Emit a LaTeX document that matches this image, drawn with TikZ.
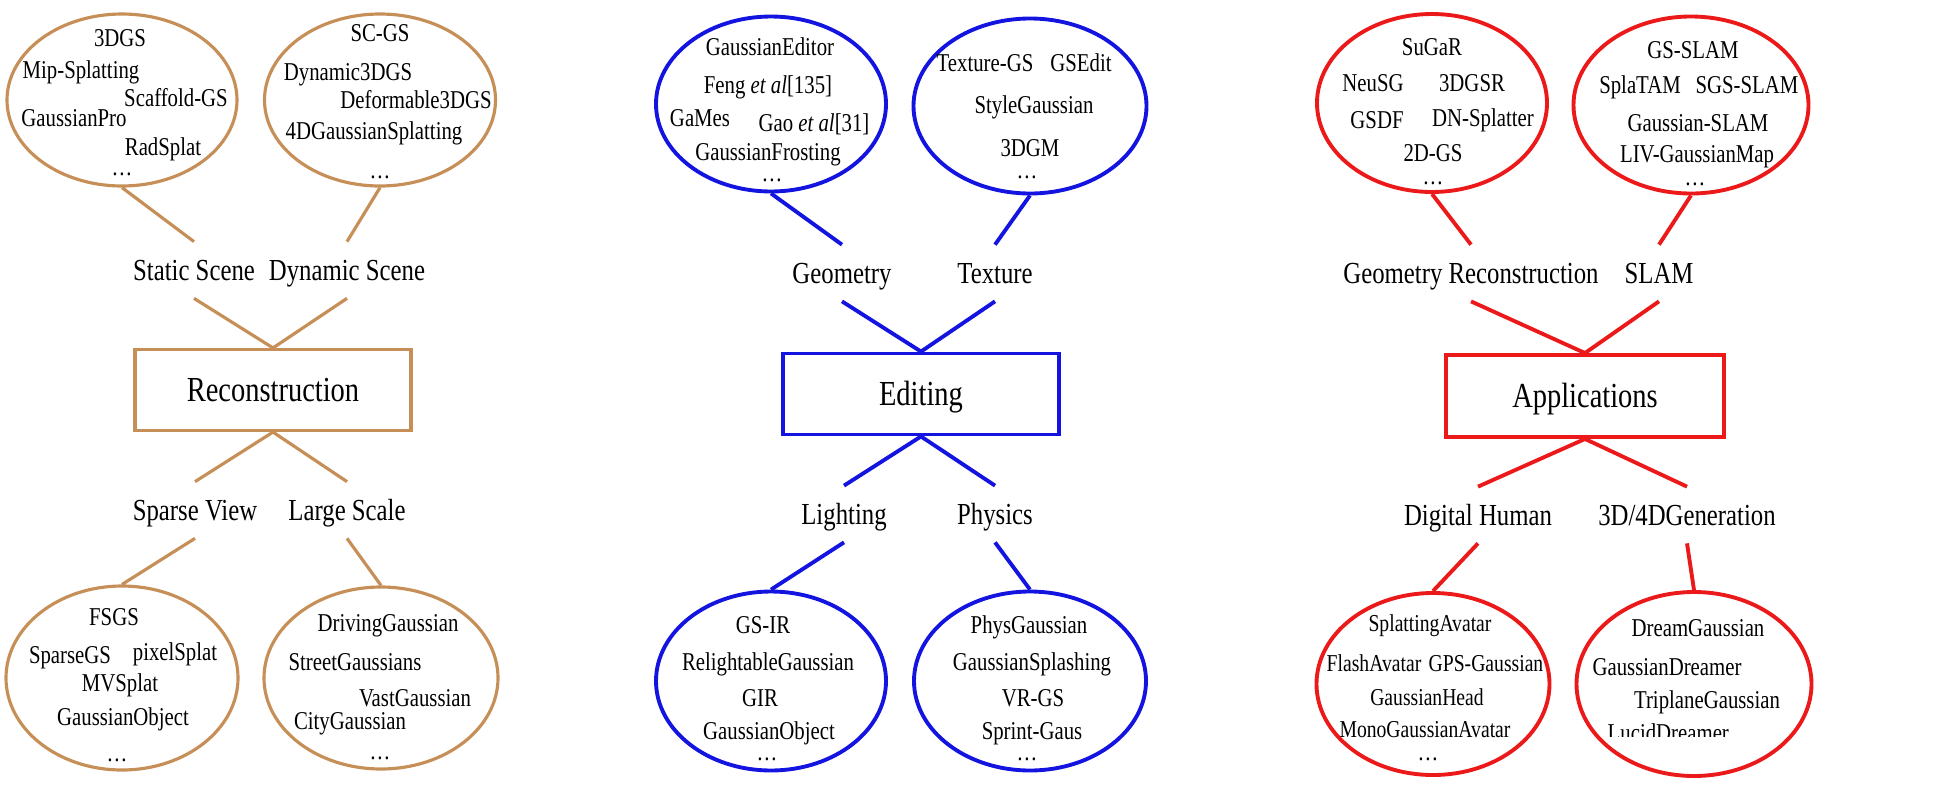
\documentclass[tikz,border=0pt]{standalone}
\usepackage{fontspec}
\setmainfont{Liberation Serif}[FakeStretch=0.81]
\usetikzlibrary{shapes.geometric}
\definecolor{cbrown}{RGB}{199,143,88}
\definecolor{cblue}{RGB}{20,20,225}
\definecolor{cred}{RGB}{235,25,25}
\newcommand\fsA{\fontsize{7.3pt}{8pt}\selectfont}
\newcommand\fsAs{\fontsize{6.9pt}{8pt}\selectfont}
\newcommand\fsB{\fontsize{8.7pt}{10pt}\selectfont}
\newcommand\fsC{\fontsize{10pt}{12pt}\selectfont}
\begin{document}
\begin{tikzpicture}[x=0.1mm,y=-0.1mm,
 ell/.style={ellipse, inner sep=0pt},
 it/.style={inner sep=0pt, text height=4.8pt, text depth=0pt, font=\fsA},
 its/.style={inner sep=0pt, text height=4.55pt, text depth=0pt, font=\fsAs},
 dt/.style={inner sep=0pt, anchor=base, font=\fsA},
 lab/.style={font=\fsB, inner xsep=0pt, inner ysep=5pt, text height=5.74pt, text depth=0pt},
 box/.style={rectangle, inner sep=0pt, font=\fsC, text height=6.6pt, text depth=0pt},
 brn/.style={draw=cbrown, line width=0.9pt},
 blu/.style={draw=cblue, line width=1.1pt},
 rd/.style={draw=cred, line width=1.1pt}]
\useasboundingbox (0,0) rectangle (1955,787);

% ---------------- Reconstruction (brown) ----------------
\node[ell,brn,minimum width=23.0mm,minimum height=17.2mm] (e1) at (122,100) {};
\node[ell,brn,minimum width=23.1mm,minimum height=17.2mm] (e2) at (380,100) {};
\node[ell,brn,minimum width=23.2mm,minimum height=18.4mm] (e3) at (122,678) {};
\node[ell,brn,minimum width=23.4mm,minimum height=18.2mm] (e4) at (381,678) {};
\node[lab] (ss) at (194,270) {Static Scene};
\node[lab] (ds) at (347,270) {Dynamic Scene};
\node[box,brn,minimum width=27.6mm,minimum height=8.1mm] (rec) at (273,390) {Reconstruction};
\node[lab] (sv) at (195,510) {Sparse View};
\node[lab] (ls) at (347,510) {Large Scale};
\draw[brn] (e1.south) -- (ss.north);
\draw[brn] (e2.south) -- (ds.north);
\draw[brn] (ss.south) -- (rec.north);
\draw[brn] (ds.south) -- (rec.north);
\draw[brn] (rec.south) -- (sv.north);
\draw[brn] (rec.south) -- (ls.north);
\draw[brn] (sv.south) -- (e3.north);
\draw[brn] (ls.south) -- (e4.north);

\node[it] (t1a) at (120,38) {3DGS};
\node[it] (t1b) at (81,70) {Mip-Splatting};
\node[it] (t1c) at (176,98) {Scaffold-GS};
\node[it] (t1d) at (74,118) {GaussianPro};
\node[it] (t1e) at (163,147) {RadSplat};
\node[dt] (t1f) at (122,175) {\ldots};

\node[it] (t2a) at (380,33) {SC-GS};
\node[it] (t2b) at (348,72) {Dynamic3DGS};
\node[it] (t2c) at (416,100) {Deformable3DGS};
\node[it] (t2d) at (374,131) {4DGaussianSplatting};
\node[dt] (t2e) at (380,178) {\ldots};

\node[it] (t3a) at (114,617) {FSGS};
\node[it] (t3b) at (70,655) {SparseGS};
\node[it] (t3c) at (175,652) {pixelSplat};
\node[it] (t3d) at (120,683) {MVSplat};
\node[it] (t3e) at (123,717) {GaussianObject};
\node[dt] (t3f) at (117,761) {\ldots};

\node[it] (t4a) at (388,623) {DrivingGaussian};
\node[it] (t4b) at (355,662) {StreetGaussians};
\node[it] (t4c) at (415,698) {VastGaussian};
\node[it] (t4d) at (350,721) {CityGaussian};
\node[dt] (t4e) at (380,759) {\ldots};

% ---------------- Editing (blue) ----------------
\node[ell,blu,minimum width=23.0mm,minimum height=17.5mm] (e5) at (771,104) {};
\node[ell,blu,minimum width=23.3mm,minimum height=17.5mm] (e6) at (1030,106) {};
\node[ell,blu,minimum width=23.0mm,minimum height=17.9mm] (e7) at (771,681) {};
\node[ell,blu,minimum width=23.2mm,minimum height=17.9mm] (e8) at (1030,681) {};
\node[lab] (geo) at (842,273) {Geometry};
\node[lab] (tex) at (995,273) {Texture};
\node[box,blu,minimum width=27.6mm,minimum height=8.1mm] (edi) at (921,394) {Editing};
\node[lab] (lig) at (844,514) {Lighting};
\node[lab] (phy) at (995,514) {Physics};
\draw[blu] (e5.south) -- (geo.north);
\draw[blu] (e6.south) -- (tex.north);
\draw[blu] (geo.south) -- (edi.north);
\draw[blu] (tex.south) -- (edi.north);
\draw[blu] (edi.south) -- (lig.north);
\draw[blu] (edi.south) -- (phy.north);
\draw[blu] (lig.south) -- (e7.north);
\draw[blu] (phy.south) -- (e8.north);

\node[it] (t5a) at (770,47) {GaussianEditor};
\node[it] (t5b) at (768,85) {Feng \textit{et al}[135]};
\node[it] (t5c) at (700,118) {GaMes};
\node[it] (t5d) at (814,123) {Gao \textit{et al}[31]};
\node[it] (t5e) at (768,152) {GaussianFrosting};
\node[dt] (t5f) at (772,181) {\ldots};

\node[it] (t6a) at (985,63) {Texture-GS};
\node[it] (t6b) at (1081,63) {GSEdit};
\node[it] (t6c) at (1034,105) {StyleGaussian};
\node[it] (t6d) at (1030,148) {3DGM};
\node[dt] (t6e) at (1027,178) {\ldots};

\node[it] (t7a) at (763,625) {GS-IR};
\node[it] (t7b) at (768,662) {RelightableGaussian};
\node[it] (t7c) at (760,698) {GIR};
\node[it] (t7d) at (769,731) {GaussianObject};
\node[dt] (t7e) at (767,760) {\ldots};

\node[it] (t8a) at (1029,625) {PhysGaussian};
\node[it] (t8b) at (1032,662) {GaussianSplashing};
\node[it] (t8c) at (1033,698) {VR-GS};
\node[it] (t8d) at (1032,731) {Sprint-Gaus};
\node[dt] (t8e) at (1027,760) {\ldots};

% ---------------- Applications (red) ----------------
\node[ell,rd,minimum width=23.0mm,minimum height=17.8mm] (e9) at (1432,103) {};
\node[ell,rd,minimum width=23.5mm,minimum height=17.7mm] (e10) at (1691,105) {};
\node[ell,rd,minimum width=23.3mm,minimum height=18.2mm] (e11) at (1433,684) {};
\node[ell,rd,minimum width=23.5mm,minimum height=18.4mm] (e12) at (1694,684) {};
\node[lab] (gr) at (1471,273) {Geometry Reconstruction};
\node[lab] (sl) at (1659,273) {SLAM};
\node[box,rd,minimum width=27.8mm,minimum height=8.2mm] (app) at (1585,396) {Applications};
\node[lab] (dh) at (1478,515) {Digital Human};
\node[lab] (gen) at (1687,515) {3D/4DGeneration};
\draw[rd] (e9.south) -- (gr.north);
\draw[rd] (e10.south) -- (sl.north);
\draw[rd] (gr.south) -- (app.north);
\draw[rd] (sl.south) -- (app.north);
\draw[rd] (app.south) -- (dh.north);
\draw[rd] (app.south) -- (gen.north);
\draw[rd] (dh.south) -- (e11.north);
\draw[rd] (gen.south) -- (e12.north);

\node[it] (t9a) at (1432,47) {SuGaR};
\node[it] (t9b) at (1373,83) {NeuSG};
\node[it] (t9c) at (1472,83) {3DGSR};
\node[it] (t9d) at (1377,120) {GSDF};
\node[it] (t9e) at (1483,118) {DN-Splatter};
\node[it] (t9f) at (1433,153) {2D-GS};
\node[dt] (t9g) at (1433,184) {\ldots};

\node[it] (t10a) at (1693,50) {GS-SLAM};
\node[it] (t10b) at (1640,85) {SplaTAM};
\node[it] (t10c) at (1747,85) {SGS-SLAM};
\node[it] (t10d) at (1698,123) {Gaussian-SLAM};
\node[it] (t10e) at (1697,154) {LIV-GaussianMap};
\node[dt] (t10f) at (1695,185) {\ldots};

\node[its] (t11a) at (1430,623) {SplattingAvatar};
\node[its] (t11b) at (1374,663) {FlashAvatar};
\node[its] (t11c) at (1486,663) {GPS-Gaussian};
\node[its] (t11d) at (1427,697) {GaussianHead};
\node[its] (t11e) at (1425,729) {MonoGaussianAvatar};
\node[dt] (t11f) at (1428,760) {\ldots};

\node[it] (t12a) at (1698,628) {DreamGaussian};
\node[it] (t12b) at (1667,667) {GaussianDreamer};
\node[it] (t12c) at (1707,700) {TriplaneGaussian};
\begin{scope}
\clip (1590,715) rectangle (1790,736);
\node[it,anchor=west] (t12d) at (1607,733) {LucidDreamer};
\end{scope}
\end{tikzpicture}
\end{document}
